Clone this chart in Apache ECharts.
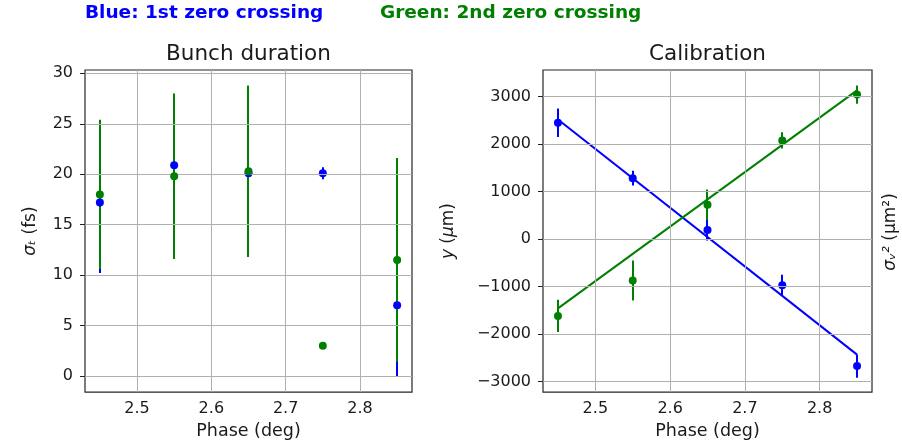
<!DOCTYPE html>
<html>
<head>
<meta charset="utf-8">
<script src="https://cdn.jsdelivr.net/npm/echarts@6/dist/echarts.min.js"></script>
<style>html,body{margin:0;padding:0;background:#fff}#c{width:902px;height:445px}</style>
</head>
<body>
<div id="c"></div>
<script>
// ---- data ----
const phases = [2.45, 2.55, 2.65, 2.75, 2.85];
// Left: bunch duration sigma_t (fs)
const blueSigma = [17.2, 20.9, 20.1, 20.1, 7.0];
const blueSigmaErr = [7.0, 7.0, 7.0, 0.6, 7.1];
const greenSigma = [18.0, 19.8, 20.3, 3.0, 11.5];
const greenSigmaErr = [7.4, 8.2, 8.5, 0.3, 10.1];
// Right: calibration
const blueY = [2445, 1280, 190, -975, -2675];
const blueYErr = [300, 155, 220, 220, 245];
const greenS = [-1620, -875, 720, 2075, 3040];
const greenSErr = [340, 420, 320, 170, 190];
const fitX = [2.45, 2.85];
const blueFit = [2515, -2435];
const greenFit = [-1460, 3130];
// ticks
const xTicks = [2.5, 2.6, 2.7, 2.8];
const leftYTicks = [0, 5, 10, 15, 20, 25, 30];
const rightYTicks = [-3000, -2000, -1000, 0, 1000, 2000, 3000];

const BLUE = '#0000ff', GREEN = '#008000';
const FONT = 'DejaVu Sans';
const TXT = '#1a1a1a';

function pts(xs, ys) { return xs.map((x, i) => [x, ys[i]]); }
function errs(xs, ys, es) { return xs.map((x, i) => [x, ys[i] - es[i], ys[i] + es[i]]); }

function errSeries(gi, data, color, z) {
  return {
    type: 'custom', xAxisIndex: gi, yAxisIndex: gi, z: z, silent: true,
    data: data,
    renderItem: function (params, api) {
      const a = api.coord([api.value(0), api.value(1)]);
      const b = api.coord([api.value(0), api.value(2)]);
      const x = Math.round(a[0]);
      return { type: 'line', shape: { x1: x, y1: a[1], x2: x, y2: b[1] },
               style: { stroke: color, lineWidth: 2, opacity: 1 } };
    }
  };
}
function scatter(gi, data, color, z) {
  return { type: 'scatter', xAxisIndex: gi, yAxisIndex: gi, z: z, data: data,
           symbol: 'circle', symbolSize: 8, itemStyle: { color: color, opacity: 1 }, silent: true };
}
function gridLines(gi, ys) {
  const d = xTicks.map(v => ({ xAxis: v })).concat(ys.map(v => ({ yAxis: v })));
  return { type: 'line', xAxisIndex: gi, yAxisIndex: gi, data: [], z: 0, silent: true,
           markLine: { silent: true, symbol: ['none', 'none'], label: { show: false },
                       lineStyle: { color: '#b0b0b0', width: 1, type: 'solid' }, animation: false,
                       data: d } };
}
function xAxis(gi) {
  return {
    type: 'value', gridIndex: gi, min: 2.43, max: 2.87,
    name: 'Phase (deg)', nameLocation: 'middle', nameGap: 29,
    nameTextStyle: { fontFamily: FONT, fontSize: 17.5, color: TXT },
    axisLine: { show: false },
    axisTick: { show: true, length: 5, customValues: xTicks, lineStyle: { color: '#222', width: 1 } },
    axisLabel: { customValues: xTicks, margin: 9, fontFamily: FONT, fontSize: 16, color: TXT,
                 formatter: v => v.toFixed(1) },
    splitLine: { show: false }
  };
}
function yAxis(gi, min, max, ticks, name, gap) {
  return {
    type: 'value', gridIndex: gi, min: min, max: max,
    name: name, nameLocation: 'middle', nameGap: gap, nameRotate: 90,
    nameTextStyle: { fontFamily: FONT, fontSize: 17, color: TXT,
                     rich: { i: { fontFamily: FONT, fontStyle: 'italic', fontSize: 17, color: TXT } } },
    axisLine: { show: false },
    axisTick: { show: true, length: 5, customValues: ticks, lineStyle: { color: '#222', width: 1 } },
    axisLabel: { customValues: ticks, margin: 12, fontFamily: FONT, fontSize: 16, color: TXT,
                 formatter: v => (v < 0 ? '\u2212' + Math.abs(v) : String(v)) },
    splitLine: { show: false }
  };
}

const chart = echarts.init(document.getElementById('c'), null, { renderer: 'canvas' });
chart.setOption({
  animation: false,
  backgroundColor: '#fff',
  grid: [
    { left: 85, top: 70, width: 327, height: 324, show: true, borderColor: '#262626', borderWidth: 1.2, backgroundColor: 'transparent' },
    { left: 543, top: 70, width: 329, height: 324, show: true, borderColor: '#262626', borderWidth: 1.2, backgroundColor: 'transparent' }
  ],
  xAxis: [xAxis(0), xAxis(1)],
  yAxis: [
    yAxis(0, -1.6, 30.33, leftYTicks, '{i|σₜ} (fs)', 46),
    yAxis(1, -3224, 3558, rightYTicks, '{i|y} ({i|μ}m)', 86)
  ],
  graphic: [
    { type: 'text', left: 85, top: 4, style: { text: 'Blue: 1st zero crossing', fill: BLUE, font: 'bold 18.5px "DejaVu Sans"' } },
    { type: 'text', left: 380, top: 4, style: { text: 'Green: 2nd zero crossing', fill: GREEN, font: 'bold 18.5px "DejaVu Sans"' } },
    { type: 'text', x: 248.5, y: 54, style: { text: 'Bunch duration', fill: TXT, font: '21.5px "DejaVu Sans"', align: 'center', verticalAlign: 'middle' } },
    { type: 'text', x: 707.5, y: 54, style: { text: 'Calibration', fill: TXT, font: '21.5px "DejaVu Sans"', align: 'center', verticalAlign: 'middle' } },
    { type: 'text', x: 891, y: 232, rotation: Math.PI / 2,
      style: { text: '{i|σᵥ²} (μm²)', fill: TXT, font: '17px "DejaVu Sans"', align: 'center', verticalAlign: 'middle',
               rich: { i: { fontStyle: 'italic', fontSize: 17, fontFamily: FONT, fill: TXT } } } }
  ],
  series: [
    gridLines(0, leftYTicks),
    gridLines(1, rightYTicks),
    errSeries(0, errs(phases, blueSigma, blueSigmaErr), BLUE, 2),
    errSeries(0, errs(phases, greenSigma, greenSigmaErr), GREEN, 3),
    scatter(0, pts(phases, blueSigma), BLUE, 4),
    scatter(0, pts(phases, greenSigma), GREEN, 5),
    { type: 'line', xAxisIndex: 1, yAxisIndex: 1, data: pts(fitX, blueFit), showSymbol: false, z: 2, silent: true,
      lineStyle: { color: BLUE, width: 2 } },
    { type: 'line', xAxisIndex: 1, yAxisIndex: 1, data: pts(fitX, greenFit), showSymbol: false, z: 2, silent: true,
      lineStyle: { color: GREEN, width: 2 } },
    errSeries(1, errs(phases, blueY, blueYErr), BLUE, 3),
    errSeries(1, errs(phases, greenS, greenSErr), GREEN, 3),
    scatter(1, pts(phases, blueY), BLUE, 4),
    scatter(1, pts(phases, greenS), GREEN, 4)
  ]
});
</script>
</body>
</html>
